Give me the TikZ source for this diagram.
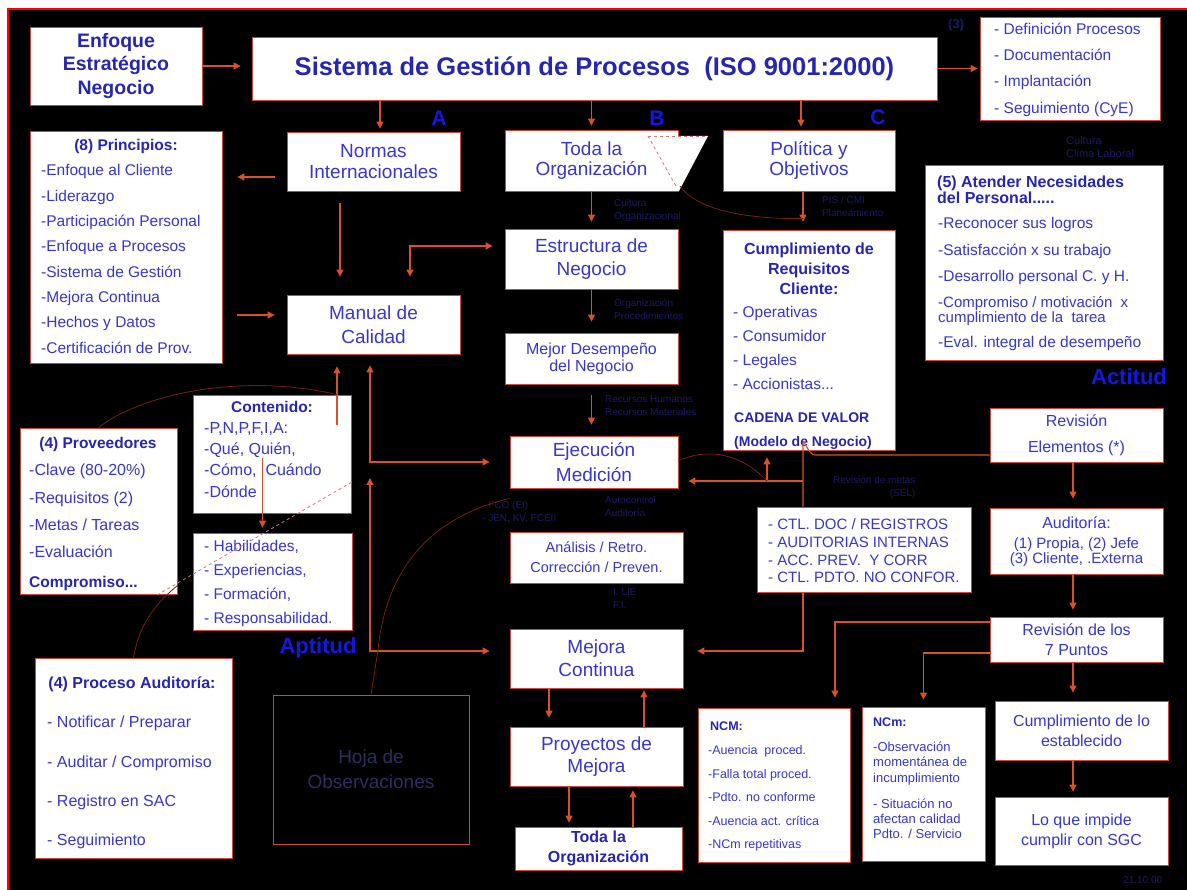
\documentclass[tikz,border=0pt]{standalone}
\usepackage{fontspec}
\setmainfont{Liberation Sans}
\usetikzlibrary{arrows.meta}
\definecolor{txtblue}{RGB}{55,55,205}
\definecolor{hdblue}{RGB}{38,38,175}
\definecolor{labblue}{RGB}{22,22,225}
\definecolor{arrowred}{RGB}{215,82,42}
\definecolor{boxred}{RGB}{200,70,60}
\definecolor{dimred}{RGB}{115,32,22}
\definecolor{annot}{RGB}{26,26,100}
\definecolor{hojatxt}{RGB}{45,45,95}
\definecolor{dashpink}{RGB}{210,120,120}
\begin{document}
\begin{tikzpicture}[x=1pt,y=-1pt,
  box/.style={draw=boxred, line width=0.8pt, fill=white, inner sep=0pt, text=txtblue, align=center},
  hd/.style={text=hdblue, inner sep=0pt, font=\bfseries\fontsize{15.5}{18}\selectfont},
  lst/.style={text=txtblue, inner sep=0pt, align=left, anchor=north west},
  arr/.style={draw=arrowred, line width=1.1pt, -{Triangle[length=7pt,width=7pt]}},
  arrs/.style={draw=arrowred, line width=1.1pt, {Triangle[length=7pt,width=7pt]}-{Triangle[length=7pt,width=7pt]}},
  ln/.style={draw=arrowred, line width=1.1pt},
  dim/.style={draw=dimred, line width=0.8pt},
  note/.style={text=annot, inner sep=0pt, font=\fontsize{10}{13}\selectfont, align=left, anchor=west},
  lab/.style={text=labblue, inner sep=0pt, font=\bfseries\fontsize{21}{24}\selectfont},
]
\useasboundingbox (0,0) rectangle (1187,890);
% page, black field and red frame
\fill[white] (0,0) rectangle (1187,890);
\fill[black] (9,10) rectangle (1187,890);
\draw[red, line width=2pt] (8,890) -- (8,9) -- (1187,9);

% ---------- top row ----------
\node[box, minimum width=172pt, minimum height=78pt, text=hdblue,
  font=\bfseries\fontsize{19.5}{23.5}\selectfont] (enfoque) at (116,66) {Enfoque\\Estratégico\\Negocio};
\node[box, minimum width=685pt, minimum height=63pt, text=hdblue,
  font=\bfseries\fontsize{25.5}{28}\selectfont] (sistema) at (594.5,68.5) {Sistema de Gestión de Procesos\ \ (ISO 9001:2000)};
\node[box, minimum width=180pt, minimum height=103pt] (rlist) at (1070,68.5) {};
\node[lst, font=\fontsize{15.5}{26.3}\selectfont] (rlistT) at (994,22.5)
  {- Definición Procesos\\- Documentación\\- Implantación\\- Seguimiento (CyE)};
\node[note, font=\bfseries\fontsize{13}{14}\selectfont] (n3) at (948,25) {(3)};

% ---------- second row ----------
\node[box, minimum width=192pt, minimum height=232pt] (princ) at (126,247) {};
\node[hd, anchor=north] (princT) at (126,139.5) {(8) Principios:};
\node[lst, font=\fontsize{15.5}{25.3}\selectfont] (princL) at (41,164.5)
  {-Enfoque al Cliente\\-Liderazgo\\-Participación Personal\\-Enfoque a Procesos\\-Sistema de Gestión\\-Mejora Continua\\-Hechos y Datos\\-Certificación de Prov.};

\node[box, minimum width=173pt, minimum height=59pt, font=\fontsize{19}{21.5}\selectfont] (normas) at (373.5,161.5) {Normas\\Internacionales};
\node[box, minimum width=173pt, minimum height=61pt, font=\fontsize{19}{20}\selectfont] (toda) at (591.5,160.5) {Toda la\\Organización};
\fill[white] (677.6,136) -- (708,136) -- (679,191) -- (677.6,191) -- cycle;
\draw[dashpink, dashed, line width=0.8pt] (648,136) -- (677,188);
\draw[dashpink, dashed, line width=0.8pt] (648,136) -- (705,136);
\coordinate (tz) at (680,186);
\node[box, minimum width=172pt, minimum height=61pt, font=\fontsize{19}{20}\selectfont] (politica) at (809,160.5) {Política y\\Objetivos};

\node[lab] (labA) at (439,118) {A};
\node[lab] (labB) at (657,118) {B};
\node[lab] (labC) at (878,117) {C};

\node[box, minimum width=238pt, minimum height=195pt] (atender) at (1044,262.5) {};
\node[lst, text=hdblue, font=\bfseries\fontsize{16}{14.5}\selectfont] (atenderT) at (937,176)
  {(5) Atender Necesidades\\del Personal.....};
\node[lst, font=\fontsize{15.5}{26.5}\selectfont] (atenderL) at (938,217.5)
  {-Reconocer sus logros\\-Satisfacción x su trabajo\\-Desarrollo personal C. y H.};
\node[lst, font=\fontsize{15}{14.5}\selectfont] (atenderC) at (938,296.5)
  {-Compromiso / motivación\ \ x\\cumplimiento de la\ \ tarea};
\node[lst, font=\fontsize{15.5}{26.5}\selectfont] (atenderE) at (938,336.5)
  {-Eval. integral de desempeño};
\node[note, align=left, font=\fontsize{11}{13}\selectfont] (nclima) at (1066,147) {Cultura\\Clima Laboral};

% ---------- middle column ----------
\node[box, minimum width=173pt, minimum height=60pt, font=\fontsize{19}{23}\selectfont] (estruct) at (591.5,259) {Estructura de\\Negocio};
\node[box, minimum width=173pt, minimum height=59pt, font=\fontsize{19}{24}\selectfont] (manual) at (373.5,324.5) {Manual de\\Calidad};
\node[box, minimum width=173pt, minimum height=51pt, font=\fontsize{16}{17}\selectfont] (mejor) at (591.5,358.5) {Mejor Desempeño\\del Negocio};

\node[box, minimum width=172pt, minimum height=220pt] (cumpl) at (809,340) {};
\node[hd, anchor=north, align=center, font=\bfseries\fontsize{16}{20}\selectfont] (cumplT) at (809,242.5)
  {Cumplimiento de\\Requisitos\\Cliente:};
\node[lst, font=\fontsize{15.5}{23.7}\selectfont] (cumplL) at (733,306.5)
  {- Operativas\\- Consumidor\\- Legales\\- Accionistas...};
\node[lst, text=hdblue, font=\bfseries\fontsize{14}{24}\selectfont] (cumplV) at (734,413)
  {CADENA DE VALOR\\(Modelo de Negocio)};

\node[box, minimum width=158pt, minimum height=118pt] (conten) at (272,454) {};
\node[hd, anchor=north] (contenT) at (272,401.5) {Contenido:};
\node[lst, font=\fontsize{16}{21.3}\selectfont] (contenL) at (204,422)
  {-P,N,P,F,I,A:\\-Qué, Quién,\\-Cómo,\ \ Cuándo\\-Dónde};

\node[box, minimum width=157pt, minimum height=166pt] (prov) at (98.5,511) {};
\node[hd, anchor=north] (provT) at (98,437.5) {(4) Proveedores};
\node[lst, font=\fontsize{16}{27.3}\selectfont] (provL) at (29,464)
  {-Clave (80-20\%)\\-Requisitos (2)\\-Metas / Tareas\\-Evaluación};
\node[hd, anchor=north west] (provC) at (29,576.5) {Compromiso...};

\node[box, minimum width=168pt, minimum height=52pt, font=\fontsize{19}{25}\selectfont] (ejec) at (594,462) {Ejecución\\Medición};
\node[box, minimum width=173pt, minimum height=54pt, font=\fontsize{16}{26}\selectfont] (revelem) at (1076.5,435) {Revisión\\Elementos (*)};

\node[box, minimum width=159pt, minimum height=97pt] (habil) at (272.5,581.5) {};
\node[lst, font=\fontsize{15.5}{23.7}\selectfont] (habilL) at (204,540.5)
  {- Habilidades,\\- Experiencias,\\- Formación,\\- Responsabilidad.};

\node[box, minimum width=173pt, minimum height=51pt, font=\fontsize{14.5}{20}\selectfont] (analisis) at (596.5,557.5) {Análisis / Retro.\\Corrección / Preven.};

\node[box, minimum width=214pt, minimum height=85pt] (ctl) at (864,549.5) {};
\node[lst, font=\fontsize{15}{17.7}\selectfont] (ctlL) at (768,518.6)
  {- CTL. DOC / REGISTROS\\- AUDITORIAS INTERNAS\\- ACC. PREV.\ \ Y CORR\\- CTL. PDTO. NO CONFOR.};

\node[box, minimum width=173pt, minimum height=66pt] (audit) at (1076.5,541) {};
\node[text=txtblue, inner sep=0pt, font=\fontsize{16}{18}\selectfont] (auditT) at (1076.5,523) {Auditoría:};
\node[text=txtblue, inner sep=0pt, align=center, font=\fontsize{15}{14.5}\selectfont] (audit1) at (1076.5,552) {(1) Propia, (2) Jefe\\(3) Cliente, .Externa};

\node[box, minimum width=173pt, minimum height=59pt, font=\fontsize{19}{23}\selectfont] (mejora) at (596.5,658.5) {Mejora\\Continua};
\node[box, minimum width=173pt, minimum height=45pt, font=\fontsize{16}{20}\selectfont] (rev7) at (1076.5,639.5) {Revisión de los\\7 Puntos};

% ---------- bottom row ----------
\node[box, minimum width=197pt, minimum height=200pt] (procaud) at (133.5,758) {};
\node[hd, anchor=north, font=\bfseries\fontsize{16}{18}\selectfont] (procaudT) at (132,677) {(4) Proceso Auditoría:};
\node[lst, font=\fontsize{16}{39.3}\selectfont] (procaudL) at (47,716)
  {- Notificar / Preparar\\- Auditar / Compromiso\\- Registro en SAC\\- Seguimiento};

\node[draw=boxred, line width=1pt, fill=black, inner sep=0pt, minimum width=196pt, minimum height=149pt,
  text=hojatxt, align=center, font=\fontsize{19}{25}\selectfont] (hoja) at (371,769.5) {Hoja de\\Observaciones};

\node[box, minimum width=173pt, minimum height=59pt, font=\fontsize{19}{22}\selectfont] (proyect) at (596.5,756.5) {Proyectos de\\Mejora};
\node[box, minimum width=167pt, minimum height=43pt, text=hdblue, font=\bfseries\fontsize{16}{20}\selectfont] (todaorg) at (598.5,848.5) {Toda la\\Organización};

\node[box, minimum width=152pt, minimum height=154pt] (ncm) at (774,785) {};
\node[lst, text=hdblue, font=\bfseries\fontsize{12.5}{14}\selectfont] (ncmT) at (710,721.5) {NCM:};
\node[lst, font=\fontsize{12.5}{23.5}\selectfont] (ncmL) at (708,745.5)
  {-Auencia\ \ proced.\\-Falla total proced.\\-Pdto. no conforme\\-Auencia act. crítica\\-NCm repetitivas};

\node[box, minimum width=123pt, minimum height=154pt] (ncmm) at (923.5,784) {};
\node[lst, text=hdblue, font=\bfseries\fontsize{12.5}{14}\selectfont] (ncmmT) at (873,717.5) {NCm:};
\node[lst, font=\fontsize{13}{15.5}\selectfont] (ncmmL) at (873,741.5)
  {-Observación\\momentánea de\\incumplimiento};
\node[lst, font=\fontsize{13}{15}\selectfont] (ncmmL2) at (873,798.5)
  {- Situación no\\afectan calidad\\Pdto. / Servicio};

\node[box, minimum width=173pt, minimum height=59pt, font=\fontsize{16}{20}\selectfont] (cumplest) at (1081.5,730.5) {Cumplimiento de lo\\establecido};
\node[box, minimum width=173pt, minimum height=68pt, font=\fontsize{16}{20}\selectfont] (impide) at (1081.5,831) {Lo que impide\\cumplir con SGC};

% ---------- side labels ----------
\node[lab, font=\bfseries\fontsize{22}{24}\selectfont] (actitud) at (1129,377) {Actitud};
\node[lab, font=\bfseries\fontsize{22}{24}\selectfont] (aptitud) at (318,648) {Aptitud};

% ---------- small notes beside the arrows ----------
\node[note] (nt1) at (614,210) {Cultura\\Organizacional};
\node[note] (nt2) at (614,309) {Organización\\Procedimientos};
\node[note] (nt3) at (605,406) {Recursos Humanos\\Recursos Materiales};
\node[note] (nt4) at (482,512) {- FCO (EI)\\- JEN, KV, FCEII};
\node[note] (nt5) at (605,506) {Autocontrol\\Auditoría};
\node[note] (nt6) at (613,599) {I. LIE\\F.I.};
\node[note] (nt7) at (822,206) {PIS / CMI\\Planeamiento};
\node[note, align=right] (nt8) at (833,487) {Revisión de metas\\(SEL)};
\node[note] (date) at (1123,880) {21.10.00};

% ---------- connectors ----------
\draw[arr, shorten >=11pt] (enfoque.east) -- (enfoque.east -| sistema.west);
\draw[arr, shorten >=2pt] (sistema.east |- rlist.west) -- (rlist.west);

\coordinate (xa) at ([xshift=6.5pt]normas.north);
\draw[arr, shorten >=3pt] (xa |- sistema.south) -- (xa);
\draw[arr, shorten >=4pt] (toda.north |- sistema.south) -- (toda.north);
\coordinate (xc) at ([xshift=-8pt]politica.north);
\draw[arr, shorten >=3pt] (xc |- sistema.south) -- (xc);

\coordinate (np) at ([yshift=-15.5pt]normas.west);
\draw[arr, shorten <=12pt, shorten >=15pt] (np) -- (np -| princ.east);
\coordinate (nm) at ([xshift=-33.5pt]normas.south);
\draw[arr, shorten <=12pt, shorten >=18pt] (nm) -- (nm |- manual.north);
\coordinate (pm) at ([yshift=9.5pt]manual.west);
\draw[arr, shorten <=15pt, shorten >=12pt] (pm -| princ.east) -- (pm);

\draw[arr, shorten >=7pt] (toda.south -| estruct.north) -- (estruct.north);
\coordinate (em) at ([yshift=13pt]estruct.west);
\coordinate (mx) at ([xshift=36.5pt]manual.north);
\draw[arrs, shorten <=12pt, shorten >=18pt] (em) -- (em -| mx) -- (mx);
\draw[arr, shorten >=11pt] (estruct.south) -- (mejor.north);
\draw[arr, shorten <=11pt, shorten >=11pt] (mejor.south) -- (mejor.south |- ejec.north);

\coordinate (xd) at ([xshift=-6pt]cumpl.north);
\draw[arr, shorten >=8pt] (xd |- politica.south) -- (xd);
\coordinate (tj) at ([yshift=11pt]xd);
\draw[dim] (tz) .. controls (700,214) and (760,219) .. (tj);

% Manual de Calidad / Ejecucion / Mejora Continua
\coordinate (mx2) at ([xshift=-3.5pt]manual.south);
\coordinate (mj) at (mx2 |- ejec.west);
\draw[arrs, shorten <=11pt, shorten >=20pt] (mx2) -- (mj) -- (ejec.west);
\coordinate (mc) at ([yshift=7.5pt]mejora.west);
\draw[arrs, shorten <=16pt, shorten >=20pt] (mj) -- (mj |- mc) -- (mc);
\coordinate (cx) at ([xshift=-36.5pt]manual.south);
\coordinate (cb) at ([yshift=-30pt]conten.north);
\draw[arr, shorten >=12pt] (cx |- cb) -- (cx);
\coordinate (hx) at ([xshift=-10pt]habil.north);
\coordinate (hq) at ([yshift=-63pt]conten.north);
\draw[arr, shorten >=5pt] (hx |- hq) -- (hx);

% Ejecucion / Cumplimiento / control loop
\coordinate (ec) at ([xshift=-42pt]cumpl.south);
\coordinate (eq) at ([yshift=-19pt]ejec.east);
\draw[arrs, shorten <=7pt, shorten >=10pt] (ec) -- (ec |- eq) -- (eq);
\coordinate (vx) at ([xshift=-61pt]ctl.north);
\coordinate (re) at ([yshift=-20pt]revelem.west);
\draw[ln] (ec |- eq) -- (vx |- eq);
\draw[ln] (re) -- ([xshift=12pt]vx |- re) to[out=180,in=90] ([yshift=12pt]vx |- re) -- (vx);
\coordinate (mr) at ([yshift=7.5pt]mejora.east);
\draw[arr, shorten >=14pt] (vx |- ctl.south) -- (vx |- mr) -- (mr);
\draw[dim] ([yshift=1pt]ejec.east) .. controls (705,448) and (740,452) .. (ec |- eq);

\coordinate (pa) at ([xshift=-47.5pt]proyect.north);
\draw[arr, shorten >=9pt] (pa |- mejora.south) -- (pa);
\coordinate (pb) at ([xshift=47.5pt]proyect.north);
\draw[arr, shorten >=2pt] (pb) -- (pb |- mejora.south);
\coordinate (pc) at ([xshift=-27.5pt]proyect.south);
\draw[arr, shorten >=4pt] (pc) -- (pc |- todaorg.north);
\coordinate (pd) at ([xshift=36.5pt]proyect.south);
\draw[arr, shorten >=4pt] (pd |- todaorg.north) -- (pd);

% right column
\coordinate (rx) at ([xshift=-3.5pt]revelem.south);
\draw[arr, shorten >=9pt] (rx) -- (rx |- audit.north);
\draw[arr, shorten >=7pt] (rx |- audit.south) -- (rx |- rev7.north);
\draw[arr, shorten >=8pt] (rx |- rev7.south) -- (rx |- cumplest.north);
\draw[arr, shorten >=5pt] (rx |- cumplest.south) -- (rx |- impide.north);
\coordinate (r1) at ([yshift=17.5pt]rev7.west);
\coordinate (nx) at ([xshift=61pt]ncm.north);
\draw[arr, shorten >=10pt] (r1) -- (r1 -| nx) -- (nx);
\coordinate (r2) at ([yshift=-13.5pt]rev7.west);
\draw[arr, shorten >=7pt] (r2) -- (r2 -| ncmm.north) -- (ncmm.north);

% thin dark links
\draw[dim] (prov.north) .. controls (140,395) and (240,372) .. (cx |- conten.north);
\draw[dim] (procaud.north) .. controls (140,620) and (160,600) .. (178,585);
\draw[dashpink, dashed, line width=0.8pt] (157,595) -- (352,482);
\draw[dim] ([yshift=-10pt]ejec.south west) .. controls (420,520) and (385,580) .. (378,650) -- (hoja.north);
\end{tikzpicture}
\end{document}
